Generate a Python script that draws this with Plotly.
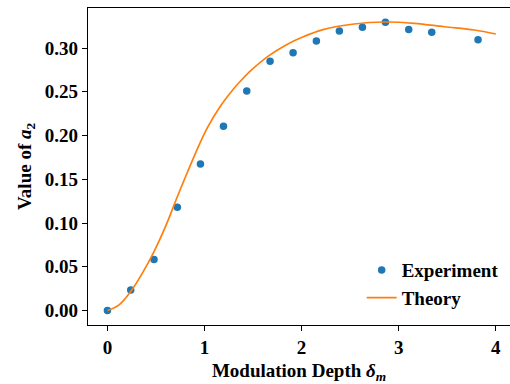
import plotly.graph_objects as go

# Experiment data
exp_x = [0.0, 0.24, 0.48, 0.72, 0.958, 1.195, 1.435, 1.675, 1.912, 2.152, 2.389, 2.626, 2.863, 3.103, 3.34, 3.817]
exp_y = [0.0, 0.0236, 0.0583, 0.118, 0.1675, 0.2106, 0.251, 0.2848, 0.2947, 0.308, 0.3195, 0.3237, 0.3294, 0.321, 0.318, 0.3095]

# Theory curve
th_x = [0.0, 0.12, 0.24, 0.36, 0.48, 0.60, 0.72, 0.79, 0.91, 1.03, 1.17, 1.30, 1.39, 1.49, 1.66, 1.84, 2.01, 2.22, 2.54, 2.85, 3.16, 3.47, 3.78, 4.0]
th_y = [0.0, 0.0065, 0.0217, 0.0427, 0.0674, 0.0965, 0.130, 0.149, 0.1805, 0.209, 0.2345, 0.2535, 0.2645, 0.2755, 0.291, 0.3035, 0.3125, 0.321, 0.3274, 0.3297, 0.3282, 0.3243, 0.3206, 0.316]

x_ticks = [0, 1, 2, 3, 4]
y_ticks = [0.0, 0.05, 0.10, 0.15, 0.20, 0.25, 0.30]

FONT = "Liberation Serif"
FS = 19

fig = go.Figure()
fig.add_trace(go.Scatter(x=exp_x, y=exp_y, mode="markers", name="<b>Experiment</b>",
                         marker=dict(color="#1f77b4", size=7.5)))
fig.add_trace(go.Scatter(x=th_x, y=th_y, mode="lines", name="<b>Theory</b>",
                         line=dict(color="#ff7f0e", width=1.7, shape="spline")))

fig.update_layout(
    width=510, height=384,
    margin=dict(l=88, r=0, t=8, b=59, autoexpand=False),
    paper_bgcolor="white", plot_bgcolor="white",
    font=dict(family=FONT, size=FS, color="black"),
    showlegend=True,
    legend=dict(x=0.985, y=0.025, xanchor="right", yanchor="bottom",
                bgcolor="rgba(0,0,0,0)", font=dict(family=FONT, size=FS, color="black")),
    xaxis=dict(range=[-0.2, 4.146], tickvals=x_ticks, ticktext=[f"<b>{v}</b>" for v in x_ticks],
               automargin=False,
               showgrid=False, zeroline=False, showline=True, linecolor="black", linewidth=1.2,
               mirror=True, ticks="outside", ticklen=5, tickcolor="black",
               title=dict(text="<b>Modulation Depth <i>δ<sub>m</sub></i></b>", standoff=8,
                          font=dict(family=FONT, size=FS))),
    yaxis=dict(range=[-0.0165, 0.3457], tickvals=y_ticks, ticktext=[f"<b>{v:.2f}</b>" for v in y_ticks],
               automargin=False,
               showgrid=False, zeroline=False, showline=True, linecolor="black", linewidth=1.2,
               mirror=False, ticks="outside", ticklen=5, tickcolor="black",
               title=dict(text="<b>Value of <i>a</i><sub>2</sub></b>", standoff=8,
                          font=dict(family=FONT, size=FS))),
)

fig.write_html("out.html", config={"displayModeBar": False},
               post_script="document.body.style.margin='0px';document.body.style.padding='0px';")
